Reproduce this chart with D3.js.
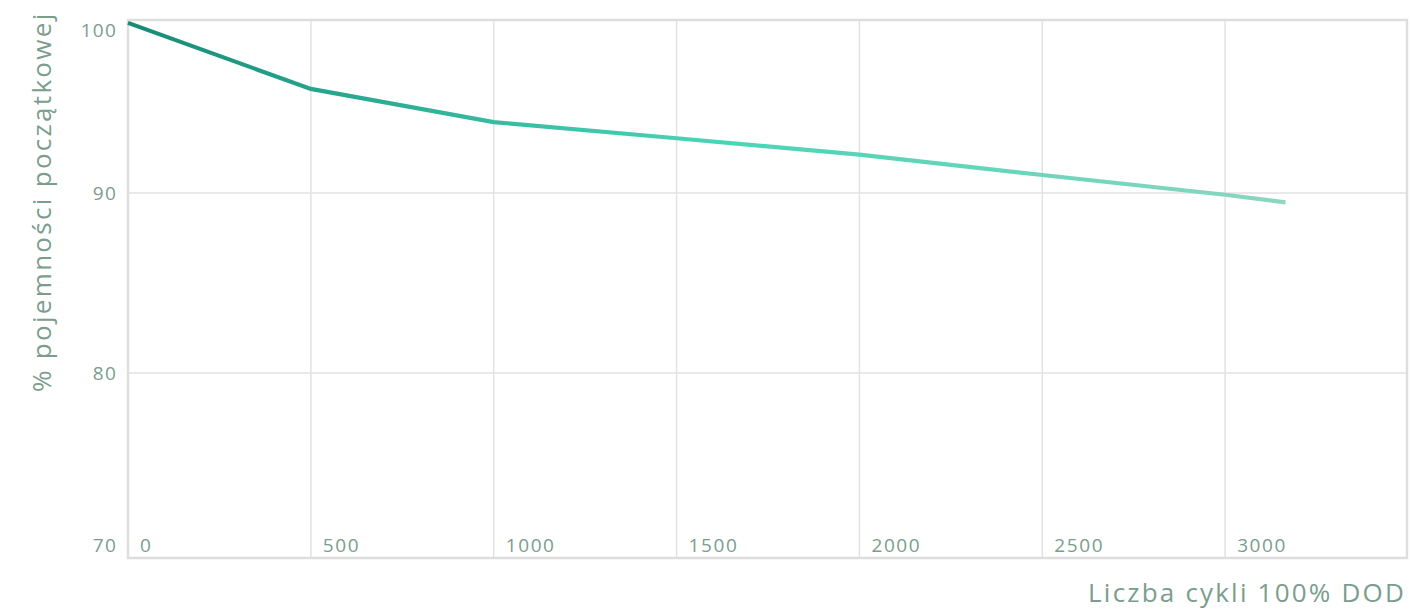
<!DOCTYPE html>
<html><head><meta charset="utf-8">
<script src="https://cdn.jsdelivr.net/npm/d3@7"></script>
<style>
html,body{margin:0;padding:0;background:#fff;}
svg{display:block;font-family:"Open Sans","Noto Sans",sans-serif;}
</style></head>
<body><svg id="c" width="1410" height="609"></svg>
<script>
const cycles = [0, 500, 1000, 1500, 2000, 2500, 3000, 3165];
const capacity = [99.45, 95.78, 93.94, 93.04, 92.13, 91.0, 89.9, 89.48];
const xTicks = [0, 500, 1000, 1500, 2000, 2500, 3000];
const yTicks = [70, 80, 90, 100];
const xTitle = "Liczba cykli 100% DOD";
const yTitle = "% pojemności początkowej";

const W = 1410, H = 609;
const m = {l:128, t:20, r:2, b:51};
const svg = d3.select("#c");
const x = d3.scaleLinear().domain([0, 3500]).range([m.l, W - m.r]);
const y = d3.scaleLinear().domain([69.72, 99.61]).range([H - m.b, m.t]);
const txt = "#7a9d8e", grid = "#e2e2e2";

// grid
svg.append("g").selectAll("line").data(xTicks.filter(d => d > 0)).join("line")
  .attr("x1", d => x(d)).attr("x2", d => x(d)).attr("y1", m.t).attr("y2", H - m.b)
  .attr("stroke", grid).attr("stroke-width", 1.5);
svg.append("g").selectAll("line").data(yTicks.filter(d => y(d) > m.t + 8 && y(d) < H - m.b - 8)).join("line")
  .attr("x1", m.l).attr("x2", W - m.r).attr("y1", d => y(d)).attr("y2", d => y(d))
  .attr("stroke", grid).attr("stroke-width", 1.5);

// frame
svg.append("rect").attr("x", m.l).attr("y", m.t).attr("width", W - m.r - m.l - 1).attr("height", H - m.b - m.t)
  .attr("fill", "none").attr("stroke", "#dedede").attr("stroke-width", 2.5);

// gradient
const defs = svg.append("defs");
const g = defs.append("linearGradient").attr("id", "lg").attr("gradientUnits", "userSpaceOnUse")
  .attr("x1", x(0)).attr("x2", x(3165)).attr("y1", 0).attr("y2", 0);
[[0, "#178a76"], [0.17, "#27a58d"], [0.33, "#36bea2"], [0.5, "#48d4b6"], [0.7, "#5fd5b9"], [1, "#8dd6c0"]]
  .forEach(([o, c]) => g.append("stop").attr("offset", o).attr("stop-color", c));

const data = cycles.map((c, i) => [c, capacity[i]]);
svg.append("path").datum(data)
  .attr("d", d3.line().x(d => x(d[0])).y(d => y(d[1])))
  .attr("fill", "none").attr("stroke", "url(#lg)").attr("stroke-width", 4.2);

// y tick labels
svg.append("g").selectAll("text").data(yTicks).join("text")
  .attr("x", 117)
  .attr("y", d => Math.max(m.t + 10, Math.min(H - m.b - 13, y(d))))
  .attr("dy", "0.35em").attr("text-anchor", "end").attr("letter-spacing", 1.2)
  .attr("fill", txt).attr("font-size", 19).text(d => d);

// x tick labels
svg.append("g").selectAll("text").data(xTicks).join("text")
  .attr("x", d => x(d) + 12).attr("y", H - m.b - 13).attr("dy", "0.35em").attr("letter-spacing", 1.6)
  .attr("fill", txt).attr("font-size", 19).text(d => d);

// titles
svg.append("text").attr("x", 1406).attr("y", 602).attr("text-anchor", "end").attr("letter-spacing", 2.2)
  .attr("fill", txt).attr("font-size", 26).text(xTitle);
svg.append("text").attr("transform", "translate(51,392) rotate(-90)").attr("letter-spacing", 2.3)
  .attr("fill", txt).attr("font-size", 26).text(yTitle);
</script></body></html>
